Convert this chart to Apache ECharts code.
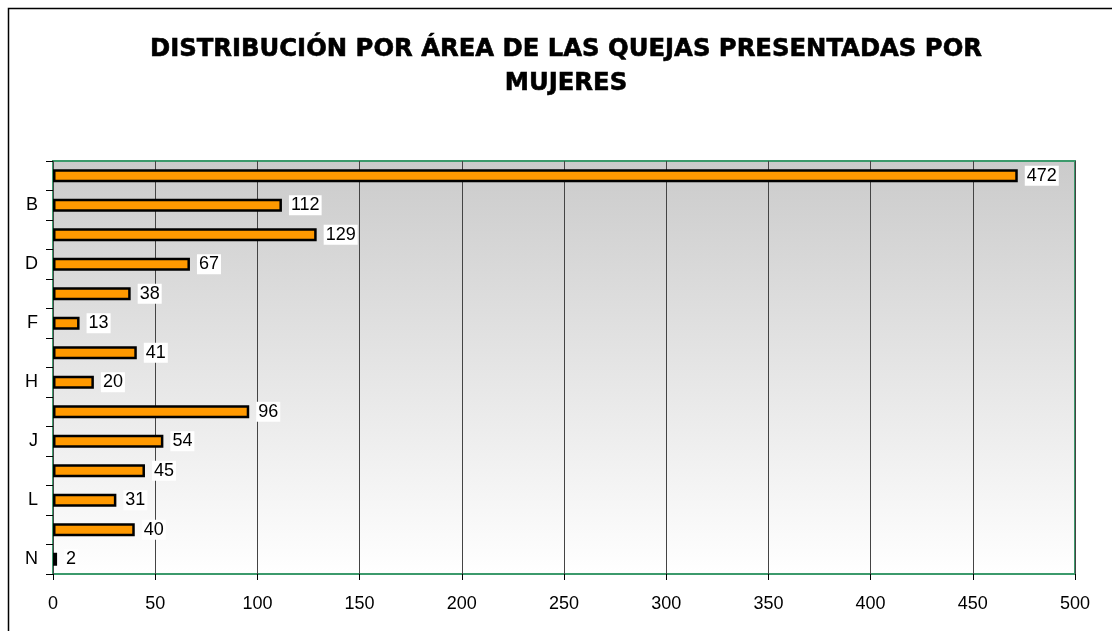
<!DOCTYPE html>
<html>
<head>
<meta charset="utf-8">
<script src="https://cdn.jsdelivr.net/npm/echarts@6/dist/echarts.min.js"></script>
<style>html,body{margin:0;padding:0;background:#fff}#c{width:1112px;height:631px}</style>
</head>
<body>
<div id="c"></div>
<script>
const categories = ['A','B','C','D','E','F','G','H','I','J','K','L','M','N'];
const values = [472,112,129,67,38,13,41,20,96,54,45,31,40,2];
const xTicks = [0,50,100,150,200,250,300,350,400,450,500];
const titleText = 'DISTRIBUCIÓN POR ÁREA DE LAS QUEJAS PRESENTADAS POR\nMUJERES';

const chart = echarts.init(document.getElementById('c'), null, {renderer:'canvas'});
chart.setOption({
  animation:false,
  backgroundColor:'#ffffff',
  title:{
    text:titleText, left:561, textAlign:'center', top:28,
    textStyle:{fontFamily:'DejaVu Sans', fontWeight:'bold', fontSize:24.3, color:'#000', lineHeight:34,
      textBorderColor:'#000', textBorderWidth:0.6}
  },
  graphic:[{
    type:'rect', shape:{x:8.5,y:8.5,width:1200,height:700},
    style:{fill:null, stroke:'#000', lineWidth:1.5}, silent:true, z:100
  }],
  grid:{left:53, right:37, top:161, bottom:57, show:true, borderColor:'#3c9a6c', borderWidth:2,
    backgroundColor:{type:'linear',x:0,y:0,x2:0,y2:1,colorStops:[{offset:0,color:'#cbcbcb'},{offset:1,color:'#ffffff'}]}},
  xAxis:{
    type:'value', min:xTicks[0], max:xTicks[xTicks.length-1], interval:50,
    axisLine:{show:false},
    axisTick:{show:true, length:6, lineStyle:{color:'#000'}},
    axisLabel:{color:'#000', fontFamily:'Liberation Sans', fontSize:18, margin:21},
    splitLine:{show:true, lineStyle:{color:'#444', width:1}}
  },
  yAxis:{
    type:'category', data:categories, inverse:true,
    axisLine:{show:false},
    axisTick:{show:true, interval:0, length:7, lineStyle:{color:'#000'}},
    axisLabel:{interval:function(i){return i%2===1;}, color:'#000', fontFamily:'Liberation Sans', fontSize:18, margin:15},
    splitLine:{show:false}
  },
  series:[{
    type:'bar', data:values, barWidth:13,
    itemStyle:{color:'#ff9900', borderColor:'#000', borderWidth:2.5},
    label:{show:true, position:'right', distance:7, color:'#000', fontFamily:'Liberation Sans', fontSize:18,
      backgroundColor:'#fff', padding:[2,2,0,2]}
  }]
});
</script>
</body>
</html>
